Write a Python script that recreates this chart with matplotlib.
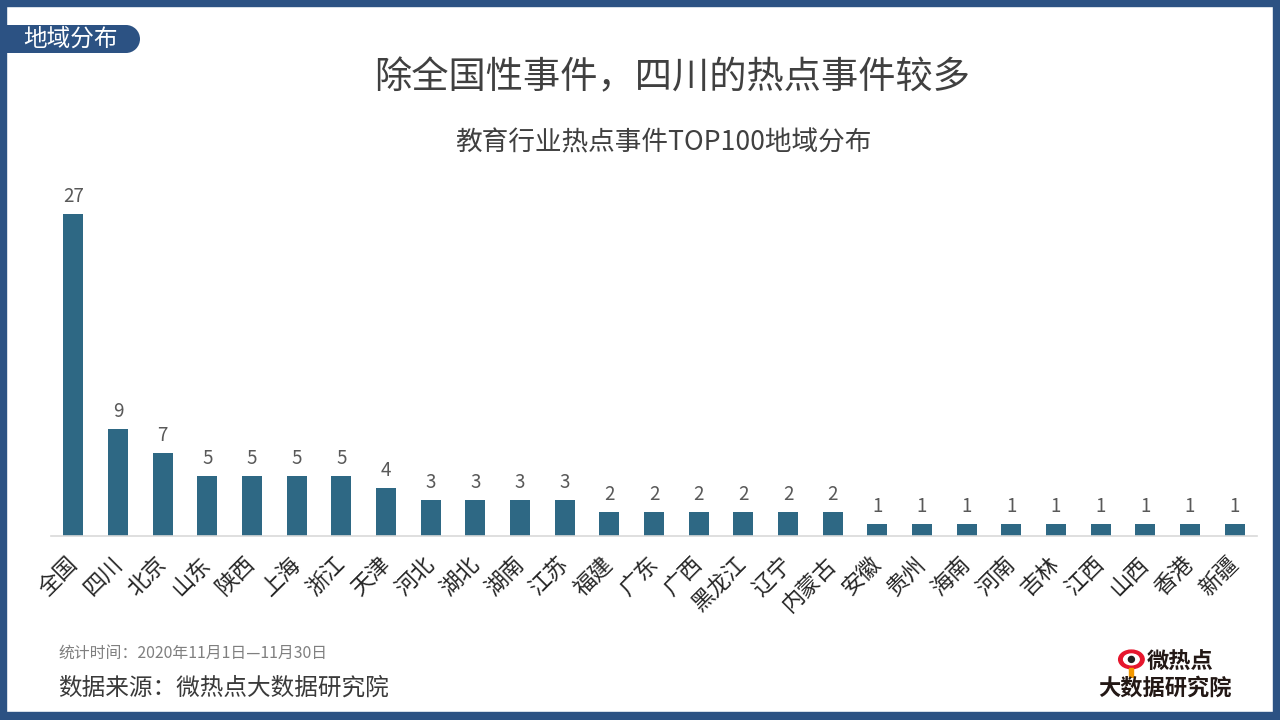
import matplotlib
matplotlib.use("Agg")
import matplotlib.pyplot as plt
import matplotlib.transforms as mtransforms
from matplotlib.patches import Rectangle, Circle, Ellipse

plt.rcParams['font.family'] = ['Noto Sans CJK SC', 'DejaVu Sans']

regions = ["全国", "四川", "北京", "山东", "陕西", "上海", "浙江", "天津", "河北", "湖北",
           "湖南", "江苏", "福建", "广东", "广西", "黑龙江", "辽宁", "内蒙古", "安徽", "贵州",
           "海南", "河南", "吉林", "江西", "山西", "香港", "新疆"]
counts = [27, 9, 7, 5, 5, 5, 5, 4, 3, 3, 3, 3, 2, 2, 2, 2, 2, 2, 1, 1, 1, 1, 1, 1, 1, 1, 1]

title = "除全国性事件，四川的热点事件较多"
subtitle = "教育行业热点事件TOP100地域分布"
tag = "地域分布"
period = "统计时间：2020年11月1日—11月30日"
source = "数据来源：微热点大数据研究院"

W, H = 1280, 720
frame_c = "#2C5283"
bar_c = "#2E6884"

fig = plt.figure(figsize=(12.8, 7.2), dpi=100)
fig.patch.set_facecolor("white")

def fx(px):
    return px / W

def fy(py):
    return 1 - py / H

# frame
for (x0, y0, w, h) in [(0, 0, W, 6), (0, 0, 6, H), (1273, 0, 7, H), (0, 712, W, 8)]:
    fig.patches.append(Rectangle((fx(x0), fy(y0 + h)), w / W, h / H,
                                 transform=fig.transFigure, color=frame_c, zorder=5))

# tag pill (rectangle + round right end) drawn in a pixel-space overlay axes
pax = fig.add_axes([0, 0, 1, 1], zorder=6)
pax.set_xlim(0, W); pax.set_ylim(H, 0); pax.axis("off")
pax.patch.set_alpha(0)
pax.add_patch(Rectangle((0, 25), 126, 28, color=frame_c, lw=0))
pax.add_patch(Circle((126, 39), 14, color=frame_c, lw=0))
pax.text(70, 39, tag, color="white", fontsize=17, ha="center", va="center")

# titles
fig.text(fx(672), fy(78), title, color="#404040", fontsize=26.8, ha="center", va="center")
fig.text(fx(663), fy(143), subtitle, color="#404040", fontsize=19.2, ha="center", va="center")

# axes
ax_left, ax_right = 51, 1257
base, top = 536, 190
ax = fig.add_axes([fx(ax_left), fy(base), (ax_right - ax_left) / W, (base - top) / H])
ymax = 27 * (base - top) / (536 - 214)
x = list(range(len(regions)))
ax.bar(x, counts, width=0.45, color=bar_c, zorder=2)
ax.set_xlim(-0.5, len(regions) - 0.5)
ax.set_ylim(0, ymax)
for xi, v in zip(x, counts):
    ax.text(xi, v + ymax * 0.02, str(v), ha="center", va="bottom",
            fontsize=13.5, color="#595959")
for s in ["top", "right", "left"]:
    ax.spines[s].set_visible(False)
ax.spines["bottom"].set_color("#D9D9D9")
ax.spines["bottom"].set_linewidth(1.2)
ax.set_yticks([])
ax.set_xticks(x)
ax.set_xticklabels(regions, rotation=45, ha="right", rotation_mode="anchor",
                   fontsize=16, color="#262626")
ax.tick_params(axis="x", length=0, pad=12)
offset = mtransforms.ScaledTranslation(-8 / 100, 0, fig.dpi_scale_trans)
for lbl in ax.get_xticklabels():
    lbl.set_transform(lbl.get_transform() + offset)
ax.patch.set_alpha(0)

# footer
fig.text(fx(58), fy(653), period, color="#7F7F7F", fontsize=11.4, ha="left", va="center")
fig.text(fx(58), fy(688), source, color="#3A3A3A", fontsize=17, ha="left", va="center")

# logo
lax = fig.add_axes([fx(1117), fy(678), 30 / W, 30 / H])
lax.set_xlim(0, 1); lax.set_ylim(0, 1); lax.axis("off")
lax.add_patch(Ellipse((0.48, 0.62), 0.85, 0.62, color="#E6162D"))
lax.add_patch(Ellipse((0.48, 0.62), 0.52, 0.36, color="white"))
lax.add_patch(Circle((0.48, 0.62), 0.1, color="#222222"))
lax.add_patch(Rectangle((0.40, 0.02), 0.12, 0.3, color="#F39800"))
fig.text(fx(1147), fy(662), "微热点", color="#231815", fontsize=16, fontweight="bold",
         ha="left", va="center")
fig.text(fx(1165), fy(688), "大数据研究院", color="#231815", fontsize=16, fontweight="bold",
         ha="center", va="center")

fig.savefig("out.png", dpi=100, facecolor="white")
